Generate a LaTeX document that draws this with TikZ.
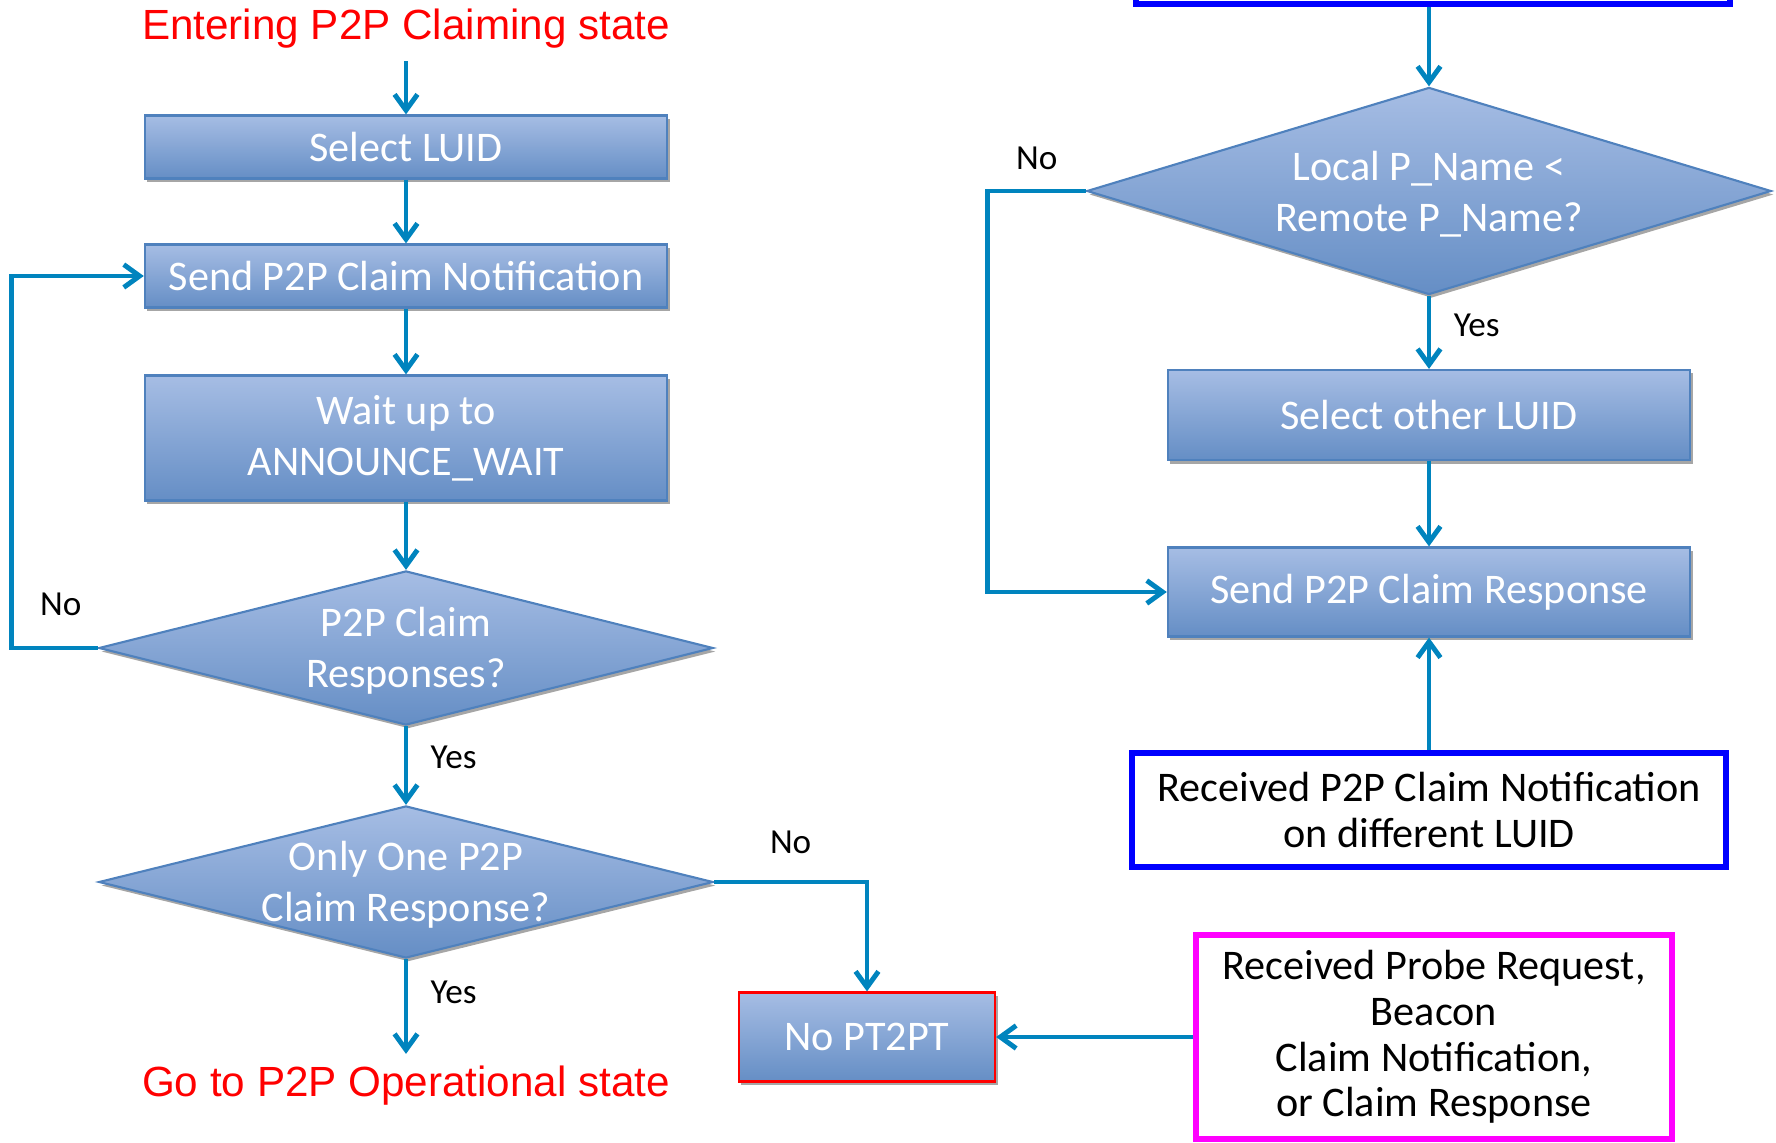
\documentclass[tikz,border=0pt]{standalone}
\usepackage{fontspec}
\setmainfont{Carlito}
\newfontfamily\arialfont{Liberation Sans}
\usetikzlibrary{positioning, arrows.meta, shapes.geometric, shadows}

\definecolor{boxtop}{RGB}{166,189,228}
\definecolor{boxbottom}{RGB}{101,142,197}
\definecolor{boxedge}{RGB}{79,129,189}
\definecolor{flowblue}{RGB}{0,132,190}
\definecolor{notepink}{RGB}{255,0,255}
\definecolor{noteblue}{RGB}{0,0,255}

\begin{document}
\begin{tikzpicture}[
    x=0.01cm, y=-0.01cm,
    stepbox/.style={rectangle, draw=boxedge, line width=0.6pt, top color=boxtop, bottom color=boxbottom,
        drop shadow={shadow xshift=0.7pt, shadow yshift=-1pt, fill=black!35, opacity=1},
        text=white, align=center, font=\fontsize{12}{14.5}\selectfont, minimum width=5.22cm},
    decision/.style={diamond, draw=boxedge, line width=0.6pt, top color=boxtop, bottom color=boxbottom,
        drop shadow={shadow xshift=0.7pt, shadow yshift=-1pt, fill=black!35, opacity=1}, inner sep=0pt},
    wtext/.style={text=white, align=center, font=\fontsize{12}{14.5}\selectfont, yshift=-0.8pt},
    note/.style={rectangle, line width=1.7pt, fill=white, align=center, font=\fontsize{12}{13}\selectfont},
    redtext/.style={text=red, font=\arialfont\fontsize{12}{14}\selectfont},
    flow/.style={-{Straight Barb[length=4.5pt, width=6.5pt]}, draw=flowblue, line width=1.4pt},
    lbl/.style={font=\fontsize{10}{12}\selectfont}
]
    \useasboundingbox (0,0) rectangle (1776,1143);
    \clip (0,0) rectangle (1776,1143);

    % Claiming side
    \node[redtext] (enter) at (406,29) {Entering P2P Claiming state};
    \node[stepbox, minimum height=0.63cm] (sel) at (406,147) {Select LUID};
    \node[stepbox, minimum height=0.63cm] (notif) at (406,276) {Send P2P Claim Notification};
    \node[stepbox, minimum height=1.25cm] (wait) at (406,438) {Wait up to\\ANNOUNCE\_WAIT};
    \node[decision, minimum width=6.14cm, minimum height=1.54cm] (resp) at (406,648) {};
    \node[wtext] (resptxt) at (resp) {P2P Claim\\Responses?};
    \node[decision, minimum width=6.14cm, minimum height=1.52cm] (only) at (406,882) {};
    \node[wtext] (onlytxt) at (only) {Only One P2P\\Claim Response?};
    \node[redtext] (oper) at (406,1086) {Go to P2P Operational state};
    \node[stepbox, draw=red, minimum width=2.56cm, minimum height=0.89cm] (nopt) at (867,1037) {No PT2PT};

    % Responding side
    \node[note, draw=noteblue, minimum width=5.94cm, minimum height=0.88cm] (topbox) at (1433,-40) {};
    \node[decision, minimum width=6.84cm, minimum height=2.07cm] (local) at (1429,191) {};
    \node[wtext] (localtxt) at (local) {Local P\_Name <\\Remote P\_Name?};
    \node[stepbox, minimum height=0.9cm] (other) at (1429,415) {Select other LUID};
    \node[stepbox, minimum height=0.89cm] (sendresp) at (1429,592) {Send P2P Claim Response};
    \node[note, draw=noteblue, minimum width=5.93cm, minimum height=1.14cm] (diffluid) at (1429,810) {Received P2P Claim Notification\\on different LUID};
    \node[note, draw=notepink, minimum width=4.75cm, minimum height=2.03cm] (probe) at (1434,1037) {Received Probe Request,\\Beacon\\Claim Notification,\\or Claim Response};

    \draw[flow] (enter) -- (sel);
    \draw[flow] (sel) -- (notif);
    \draw[flow] (notif) -- (wait);
    \draw[flow] (wait) -- (resp);
    \draw[flow] (resp) -- node[lbl, right=3pt, pos=0.4] {Yes} (only);
    \draw[flow] (only) -- node[lbl, right=3pt, pos=0.35] {Yes} (oper);
    \draw[flow] (resp.west) -- ++(-86,0) node[lbl, above=5pt, pos=0.43] {No} |- (notif.west);
    \draw[flow] (only.east) -| node[lbl, above=4pt, pos=0.25] {No} (nopt.north);
    \draw[flow] (probe) -- (nopt);

    \draw[flow] (local.north |- topbox.south) -- (local.north);
    \draw[flow] (local.south) -- node[lbl, right=3pt, pos=0.4] {Yes} (other);
    \draw[flow] (other) -- (sendresp);
    \draw[flow] (diffluid) -- (sendresp);
    \draw[flow] (local.west) -- ++(-98,0) node[lbl, above=2pt, midway] {No} |- (sendresp.west);

\end{tikzpicture}
\end{document}
